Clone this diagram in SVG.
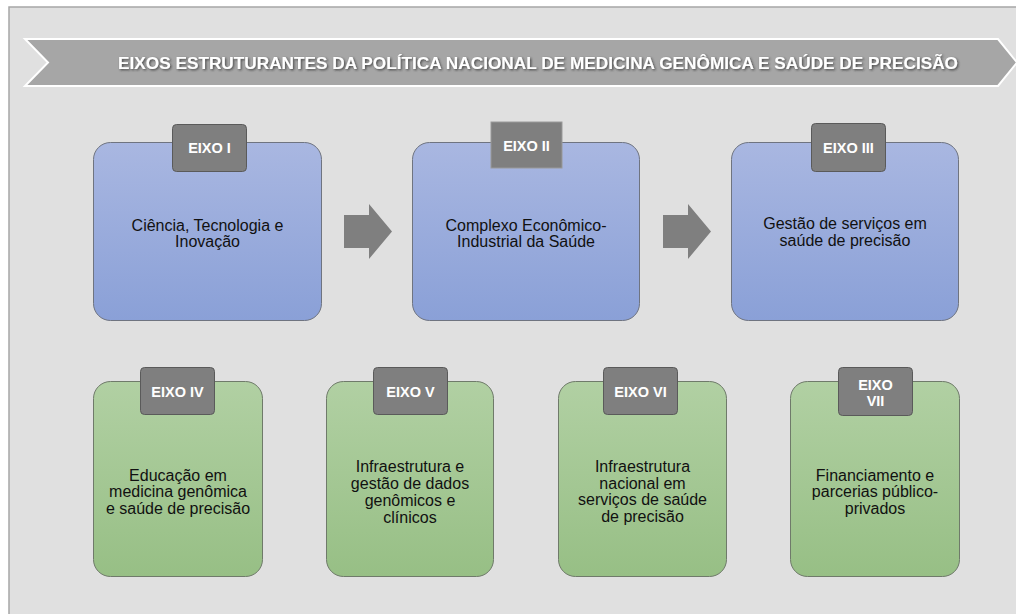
<svg xmlns="http://www.w3.org/2000/svg" width="1016" height="614" viewBox="0 0 1016 614">
  <defs>
    <linearGradient id="gBlue" x1="0" y1="0" x2="0" y2="1">
      <stop offset="0" stop-color="#a9b7e1"/>
      <stop offset="1" stop-color="#8aa0d7"/>
    </linearGradient>
    <linearGradient id="gGreen" x1="0" y1="0" x2="0" y2="1">
      <stop offset="0" stop-color="#b1d0a3"/>
      <stop offset="1" stop-color="#97bf85"/>
    </linearGradient>
    <filter id="txtShadow" x="-5%" y="-50%" width="110%" height="200%">
      <feDropShadow dx="1.2" dy="1.2" stdDeviation="0.8" flood-color="#2a2a2a" flood-opacity="0.75"/>
    </filter>
  </defs>
  <style>
    .frame { fill: #e0e0e0; stroke: #a6a6a6; stroke-width: 1.5; }
    .banner { fill: #a6a6a6; stroke: #ffffff; stroke-width: 2; }
    .title { font-family: "Liberation Sans", Arial, sans-serif; font-weight: bold; font-size: 16.5px; fill: #ffffff; }
    .blue { fill: url(#gBlue); stroke: #6f7480; stroke-width: 1; }
    .green { fill: url(#gGreen); stroke: #6f7a6a; stroke-width: 1; }
    .tab { fill: #7f7f7f; stroke: #5a5a5a; stroke-width: 1; }
    .tabsq { fill: #7f7f7f; stroke: #9a9a9a; stroke-width: 1; }
    .tabtxt { font-family: "Liberation Sans", Arial, sans-serif; font-weight: bold; font-size: 14.5px; fill: #ffffff; text-anchor: middle; }
    .body { font-family: "Liberation Sans", Arial, sans-serif; font-size: 16px; fill: #111111; text-anchor: middle; }
    .flow { fill: #7f7f7f; }
  </style>

  <!-- background panel -->
  <rect class="frame" x="9" y="7" width="1012" height="612"/>

  <!-- title chevron -->
  <g id="banner">
    <polygon class="banner" points="25,39 998,39 1017,62.5 998,86 25,86 48,62.5"/>
    <text class="title" x="118" y="68.5" textLength="840" lengthAdjust="spacingAndGlyphs" filter="url(#txtShadow)">EIXOS ESTRUTURANTES DA POLÍTICA NACIONAL DE MEDICINA GENÔMICA E SAÚDE DE PRECISÃO</text>
  </g>

  <!-- flow arrows between the first three axes -->
  <g id="connectors">
    <polygon class="flow" points="344,215 369,215 369,204 392,231.5 369,259 369,248 344,248"/>
    <polygon class="flow" points="663,215 688,215 688,204 711,231.5 688,259 688,248 663,248"/>
  </g>

  <!-- EIXO I -->
  <g id="eixo1">
    <rect class="blue" x="93.5" y="142.5" width="228" height="178" rx="17"/>
    <rect class="tab" x="172.5" y="124.5" width="74" height="47" rx="4"/>
    <text class="tabtxt" x="209.5" y="152.5">EIXO I</text>
    <text class="body" x="207.5" y="230.5">Ciência, Tecnologia e</text>
    <text class="body" x="207.5" y="246.5">Inovação</text>
  </g>

  <!-- EIXO II -->
  <g id="eixo2">
    <rect class="blue" x="412.5" y="142.5" width="227" height="178" rx="17"/>
    <rect class="tabsq" x="491" y="122" width="71" height="46"/>
    <text class="tabtxt" x="526.5" y="150.5">EIXO II</text>
    <text class="body" x="526" y="230.5">Complexo  Econômico-</text>
    <text class="body" x="526" y="246.5">Industrial da Saúde</text>
  </g>

  <!-- EIXO III -->
  <g id="eixo3">
    <rect class="blue" x="731.5" y="142.5" width="227" height="178" rx="17"/>
    <rect class="tab" x="811.5" y="123.5" width="74" height="48" rx="4"/>
    <text class="tabtxt" x="848.5" y="152.5">EIXO III</text>
    <text class="body" x="845" y="229">Gestão de serviços em</text>
    <text class="body" x="845" y="245.5">saúde de precisão</text>
  </g>

  <!-- EIXO IV -->
  <g id="eixo4">
    <rect class="green" x="93.5" y="381.5" width="169" height="195" rx="17"/>
    <rect class="tab" x="140.5" y="367.5" width="74" height="47" rx="4"/>
    <text class="tabtxt" x="177.5" y="396.5">EIXO IV</text>
    <text class="body" x="178" y="480.5">Educação em</text>
    <text class="body" x="178" y="497">medicina genômica</text>
    <text class="body" x="178" y="513.5">e saúde de precisão</text>
  </g>

  <!-- EIXO V -->
  <g id="eixo5">
    <rect class="green" x="326.5" y="381.5" width="167" height="195" rx="17"/>
    <rect class="tab" x="373.5" y="367.5" width="74" height="47" rx="4"/>
    <text class="tabtxt" x="410.5" y="396.5">EIXO V</text>
    <text class="body" x="410" y="471.5">Infraestrutura e</text>
    <text class="body" x="410" y="488.5">gestão de dados</text>
    <text class="body" x="410" y="505.5">genômicos e</text>
    <text class="body" x="410" y="522.5">clínicos</text>
  </g>

  <!-- EIXO VI -->
  <g id="eixo6">
    <rect class="green" x="558.5" y="381.5" width="168" height="195" rx="17"/>
    <rect class="tab" x="603.5" y="367.5" width="74" height="47" rx="4"/>
    <text class="tabtxt" x="640.5" y="396.5">EIXO VI</text>
    <text class="body" x="642.5" y="471.5">Infraestrutura</text>
    <text class="body" x="642.5" y="488.5">nacional em</text>
    <text class="body" x="642.5" y="505">serviços de saúde</text>
    <text class="body" x="642.5" y="521.5">de precisão</text>
  </g>

  <!-- EIXO VII -->
  <g id="eixo7">
    <rect class="green" x="790.5" y="381.5" width="169" height="195" rx="17"/>
    <rect class="tab" x="838.5" y="367.5" width="74" height="48" rx="4"/>
    <text class="tabtxt" x="875.5" y="389.5">EIXO</text>
    <text class="tabtxt" x="875.5" y="406">VII</text>
    <text class="body" x="875" y="480.5">Financiamento e</text>
    <text class="body" x="875" y="497">parcerias público-</text>
    <text class="body" x="875" y="513.5">privados</text>
  </g>
</svg>
